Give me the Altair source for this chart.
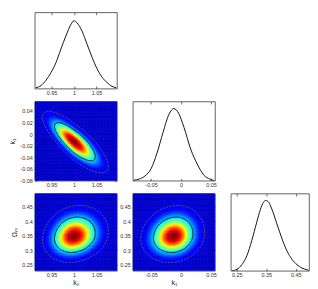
import numpy as np
import pandas as pd
import altair as alt

# ---------------- values ----------------
param_titles = ["k₀", "k₁", "Ωₘ"]
means = [1.0, -0.012, 0.349]            # k0, k1, Om (mode of each marginal)
sigma_low = [0.0285, 0.0225, 0.037]     # width below the mode
sigma_high = [0.031, 0.021, 0.043]      # width above the mode
corr_k0_k1 = -0.80
corr_k0_Om = 0.15
corr_k1_Om = 0.12
contour_chi2 = [2.30, 5.99]             # 68% (solid) and 95% (dashed) contours

dom_k0 = [0.913, 1.095]
dom_k1 = [-0.0805, 0.0565]
dom_Om = [0.230, 0.495]
domains = [dom_k0, dom_k1, dom_Om]

ticks_k0 = [0.95, 1.0, 1.05]
ticks_k1_x = [-0.05, 0.0, 0.05]
ticks_k1_y = [0.04, 0.02, 0.0, -0.02, -0.04, -0.06, -0.08]
ticks_Om_x = [0.25, 0.35, 0.45]
ticks_Om_y = [0.25, 0.3, 0.35, 0.4, 0.45]

# 1-D marginal curves (height as fraction of panel height)
k0_x = [0.915, 0.927, 0.938, 0.949, 0.960, 0.971, 0.982, 0.993, 1.000, 1.007,
        1.018, 1.029, 1.040, 1.051, 1.062, 1.073, 1.084, 1.094]
k0_h = [0.01, 0.04, 0.11, 0.21, 0.34, 0.52, 0.69, 0.84, 0.89, 0.86,
        0.75, 0.58, 0.41, 0.26, 0.15, 0.08, 0.03, 0.01]

k1_x = [-0.079, -0.070, -0.060, -0.050, -0.040, -0.030, -0.020, -0.012, -0.004,
        0.005, 0.016, 0.027, 0.038, 0.048, 0.056]
k1_h = [0.005, 0.02, 0.06, 0.15, 0.35, 0.61, 0.84, 0.91, 0.85,
        0.67, 0.40, 0.21, 0.07, 0.02, 0.0]

Om_x = [0.234, 0.251, 0.268, 0.285, 0.301, 0.318, 0.330, 0.341, 0.349, 0.358,
        0.369, 0.386, 0.403, 0.420, 0.437, 0.454, 0.471, 0.488, 0.494]
Om_h = [0.0, 0.02, 0.08, 0.20, 0.39, 0.63, 0.79, 0.89, 0.91, 0.89,
        0.80, 0.61, 0.42, 0.26, 0.15, 0.08, 0.035, 0.013, 0.005]

jet_stops = [0.0, 0.10, 0.36, 0.62, 0.87, 1.0]
jet_colors = ["#0000c8", "#0000ff", "#00ffff", "#ffff00", "#ff0000", "#800000"]

col_w = [83, 83, 79]
row_h = [77, 80, 78]

# ---------------- helpers ----------------
FONT = "Liberation Sans"
N = 56


def split_std(v, i):
    return np.where(v < means[i], (v - means[i]) / sigma_low[i], (v - means[i]) / sigma_high[i])


def heat_df(ix, iy, rho):
    ex = np.linspace(domains[ix][0], domains[ix][1], N + 1)
    ey = np.linspace(domains[iy][0], domains[iy][1], N + 1)
    cx = (ex[:-1] + ex[1:]) / 2
    cy = (ey[:-1] + ey[1:]) / 2
    X, Y = np.meshgrid(cx, cy)
    X0, Y0 = np.meshgrid(ex[:-1], ey[:-1])
    X1, Y1 = np.meshgrid(ex[1:], ey[1:])
    u = split_std(X, ix)
    v = split_std(Y, iy)
    q = (u * u - 2 * rho * u * v + v * v) / (1 - rho * rho)
    d = np.exp(-0.5 * q)
    return pd.DataFrame({
        "x0": X0.ravel().round(6), "x1": X1.ravel().round(6),
        "y0": Y0.ravel().round(6), "y1": Y1.ravel().round(6),
        "d": d.ravel().round(4),
    })


def contour_df(ix, iy, rho, chi2):
    t = np.linspace(0, 2 * np.pi, 145)
    r = np.sqrt(chi2)
    u = r * np.cos(t)
    v = r * (rho * np.cos(t) + np.sqrt(1 - rho * rho) * np.sin(t))
    x = means[ix] + u * np.where(u < 0, sigma_low[ix], sigma_high[ix])
    y = means[iy] + v * np.where(v < 0, sigma_low[iy], sigma_high[iy])
    return pd.DataFrame({"x": x, "y": y, "o": np.arange(len(t))})


def sc(dom):
    return alt.Scale(domain=dom, nice=False, zero=False)


def axis(values, orient, title=None, labels=True):
    kw = dict(
        orient=orient, values=values, labels=labels, title=title,
        tickSize=2.5, offset=-2.5, domain=False, grid=False,
        tickColor="#333333", tickWidth=0.7,
        labelFontSize=5.5, labelColor="#333333", labelFont=FONT,
        labelFlush=False,
        labelExpr="replace(format(datum.value, '~g'), '\u2212', '-')",
        titleFontSize=7, titleFont=FONT, titleFontWeight="normal", titleColor="#222222",
    )
    if orient in ("bottom", "top"):
        kw["labelPadding"] = 2
        kw["titlePadding"] = 0
    else:
        kw["labelPadding"] = 2.5
        kw["titlePadding"] = 4
    return alt.Axis(**kw)


def one_d(xs, hs, dom, ticks, w, h):
    df = pd.DataFrame({"x": xs, "h": hs})
    yscale = alt.Scale(domain=[0, 1], nice=False, zero=True)
    line = alt.Chart(df).mark_line(color="#151515", strokeWidth=1.0,
                                   interpolate="monotone", clip=True).encode(
        x=alt.X("x:Q", scale=sc(dom), axis=axis(ticks, "bottom")),
        y=alt.Y("h:Q", scale=yscale, axis=None),
    )
    top = alt.Chart(df).mark_line(opacity=0).encode(
        x=alt.X("x:Q", scale=sc(dom), axis=axis(ticks, "top", labels=False)),
        y=alt.Y("h:Q", scale=yscale, axis=None),
    )
    return alt.layer(line, top).resolve_axis(x="independent").properties(width=w, height=h)


def two_d(ix, iy, rho, xticks, yticks, xtitle, ytitle, ylabels, w, h):
    cscale = alt.Scale(domain=jet_stops, range=jet_colors, interpolate="rgb")
    heat = alt.Chart(heat_df(ix, iy, rho)).mark_rect(strokeWidth=0.6, opacity=1, clip=True).encode(
        x=alt.X("x0:Q", scale=sc(domains[ix]), axis=axis(xticks, "bottom", title=xtitle)),
        x2="x1:Q",
        y=alt.Y("y0:Q", scale=sc(domains[iy]), axis=axis(yticks, "left", title=ytitle, labels=ylabels)),
        y2="y1:Q",
        color=alt.Color("d:Q", scale=cscale, legend=None),
        stroke=alt.Stroke("d:Q", scale=cscale, legend=None),
    )
    outer = alt.Chart(contour_df(ix, iy, rho, contour_chi2[1])).mark_line(
        color="#5a5a5a", strokeWidth=1.0, strokeDash=[2, 1.3], clip=True).encode(
        x=alt.X("x:Q", scale=sc(domains[ix]), axis=None),
        y=alt.Y("y:Q", scale=sc(domains[iy]), axis=None),
        order="o:Q",
    )
    inner = alt.Chart(contour_df(ix, iy, rho, contour_chi2[0])).mark_line(
        color="#101010", strokeWidth=1.0, clip=True).encode(
        x=alt.X("x:Q", scale=sc(domains[ix]), axis=axis(xticks, "top", labels=False)),
        y=alt.Y("y:Q", scale=sc(domains[iy]), axis=axis(yticks, "right", labels=False)),
        order="o:Q",
    )
    return alt.layer(heat, outer, inner).resolve_axis(
        x="independent", y="independent").properties(width=w, height=h)


def blank():
    return alt.Chart(pd.DataFrame({"a": [0]})).mark_point(opacity=0).encode(
        x=alt.value(0), y=alt.value(0)
    ).properties(width=1, height=1, view=alt.ViewBackground(strokeOpacity=0))


cells = [
    one_d(k0_x, k0_h, dom_k0, ticks_k0, col_w[0], row_h[0]), blank(), blank(),
    two_d(0, 1, corr_k0_k1, ticks_k0, ticks_k1_y, None, param_titles[1], True, col_w[0], row_h[1]),
    one_d(k1_x, k1_h, dom_k1, ticks_k1_x, col_w[1], row_h[1]), blank(),
    two_d(0, 2, corr_k0_Om, ticks_k0, ticks_Om_y, param_titles[0], param_titles[2], True, col_w[0], row_h[2]),
    two_d(1, 2, corr_k1_Om, ticks_k1_x, ticks_Om_y, param_titles[1], None, True, col_w[1], row_h[2]),
    one_d(Om_x, Om_h, dom_Om, ticks_Om_x, col_w[2], row_h[2]),
]

chart = alt.concat(
    *cells, columns=3, spacing={"row": 13, "column": 16}, bounds="flush", align="each"
).properties(
    padding=0, background="white"
).configure_view(stroke="#3a3a3a", strokeWidth=0.8)

chart.save("out.html", embed_options={"renderer": "svg", "actions": False})
